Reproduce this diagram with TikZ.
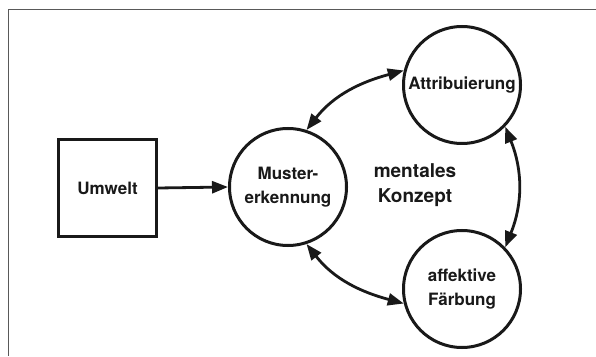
\documentclass[tikz,border=0pt]{standalone}
\usepackage{fontspec}
\setmainfont{TeX Gyre Heros}
\usetikzlibrary{arrows.meta}
\begin{document}
\begin{tikzpicture}[x=1pt,y=1pt,
  every node/.style={font=\fontsize{17}{24}\selectfont\bfseries, align=center, text=black!90},
  circ/.style={circle, draw=black!90, line width=3pt, minimum size=117pt, inner sep=0pt},
  boxnode/.style={rectangle, draw=black!90, line width=3pt, minimum width=98pt, minimum height=97pt, inner sep=0pt},
  conn/.style={draw=black!90, line width=2.8pt, -{Triangle[length=16pt,width=12pt]}},
  bconn/.style={draw=black!90, line width=2.8pt, {Triangle[length=16pt,width=12pt]}-{Triangle[length=16pt,width=12pt]}},
  framel/.style={draw=black!65, line width=1pt}]
\useasboundingbox (0,0) rectangle (596,356);
\coordinate (fr1) at (596,346);
\coordinate (fr2) at (8,346);
\coordinate (fr3) at (8,0);
\draw[framel] (fr1) -- (fr2) -- (fr3);
\node[boxnode] (u) at (107.5,168) {Umwelt};
\node[circ] (m) at (288,169) {Muster-\\erkennung};
\node[circ] (a) at (462,271) {Attribuierung};
\node[circ] (f) at (462,67) {affektive\\Färbung};
\node[font=\fontsize{19}{25}\selectfont\bfseries] (k) at (415,171) {mentales\\Konzept};
\draw[conn] (u.east) -- (m.west);
\draw[bconn] (m.72) to[out=52,in=195] (a.166);
\draw[bconn] (a.-44) to[out=-68,in=68] (f.44);
\draw[bconn] (m.-72) to[out=-52,in=165] (f.194);
\end{tikzpicture}
\end{document}
